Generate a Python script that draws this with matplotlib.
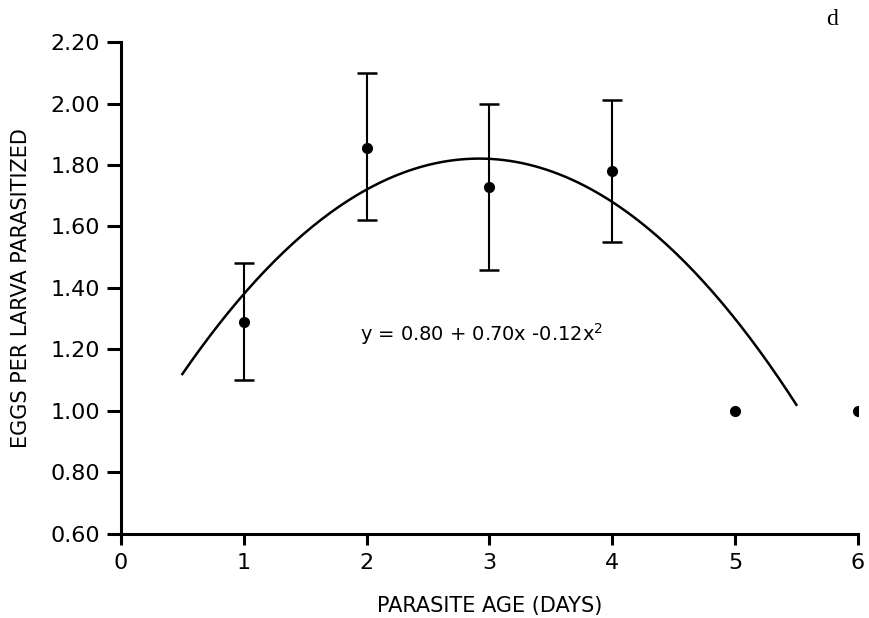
import numpy as np
import matplotlib.pyplot as plt

# datos
edad = [1, 2, 3, 4, 5, 6]
huevos = [1.29, 1.855, 1.73, 1.78, 1.00, 1.00]
err_sup = [1.48, 2.10, 2.00, 2.01, None, None]
err_inf = [1.10, 1.62, 1.46, 1.55, None, None]

# ajuste cuadratico y = 0.80 + 0.70x - 0.12x^2
coef = [0.80, 0.70, -0.12]
x_ini, x_fin = 0.5, 5.5

y_ticks = [0.60, 0.80, 1.00, 1.20, 1.40, 1.60, 1.80, 2.00, 2.20]
x_ticks = [0, 1, 2, 3, 4, 5, 6]

plt.rcParams['font.family'] = ['DejaVu Sans']

fig = plt.figure(figsize=(8.7, 6.18), dpi=100)
ax = fig.add_axes([0.139, 0.136, 0.847, 0.796])

# curva ajustada
xs = np.linspace(x_ini, x_fin, 200)
ys = coef[0] + coef[1] * xs + coef[2] * xs ** 2
ax.plot(xs, ys, color='black', lw=1.8)

# puntos con barras de error
for x, y, s, i in zip(edad, huevos, err_sup, err_inf):
    if s is not None:
        ax.errorbar(x, y, yerr=[[y - i], [s - y]], fmt='none', ecolor='black',
                    elinewidth=1.5, capsize=7, capthick=1.8)
ax.plot(edad, huevos, 'o', color='black', ms=7)

ax.text(1.95, 1.25, r'y = 0.80 + 0.70x -0.12x$^2$', fontsize=14, va='center')
fig.text(0.949, 0.968, 'd', fontsize=17, family='Liberation Serif', va='center')

ax.set_xlim(0, 6)
ax.set_ylim(0.6, 2.2)
ax.set_xticks(x_ticks)
ax.set_yticks(y_ticks)
ax.set_yticklabels([f'{v:.2f}' for v in y_ticks])
ax.tick_params(axis='y', direction='out', length=10, width=2.2, labelsize=16, pad=5)
ax.tick_params(axis='x', direction='out', length=8, width=2.2, labelsize=16, pad=6)

for lado in ['top', 'right']:
    ax.spines[lado].set_visible(False)
for lado in ['left', 'bottom']:
    ax.spines[lado].set_linewidth(2.2)

ax.set_xlabel('PARASITE AGE (DAYS)', fontsize=15, labelpad=16)
ax.set_ylabel('EGGS PER LARVA PARASITIZED', fontsize=15, labelpad=14)

fig.savefig('out.png', dpi=100)
